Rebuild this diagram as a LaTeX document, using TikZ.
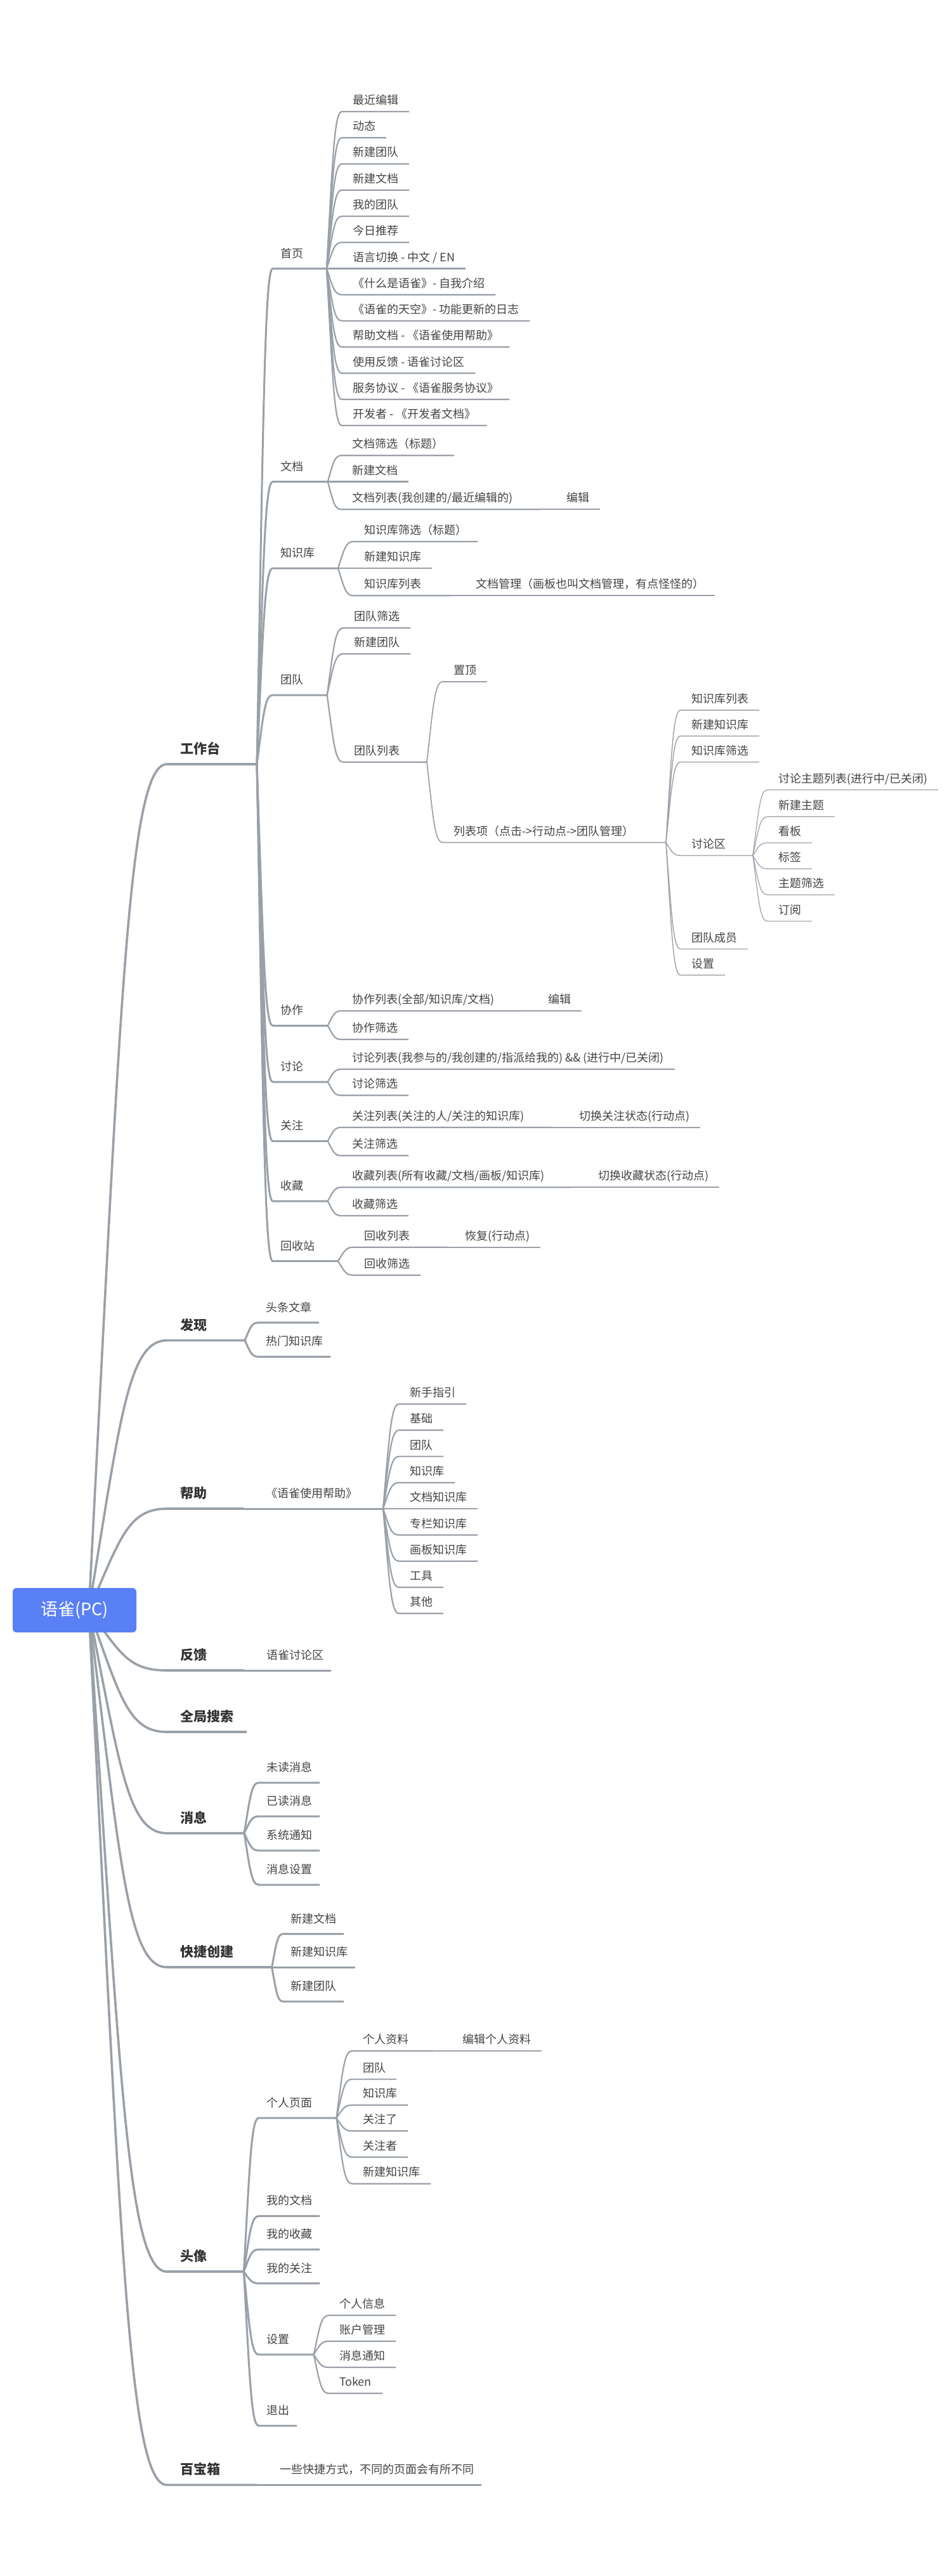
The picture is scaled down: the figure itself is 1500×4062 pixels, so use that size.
\documentclass[tikz,border=0pt]{standalone}
\usepackage{fontspec}
\setmainfont{Noto Sans CJK SC}
\usetikzlibrary{calc}
\definecolor{linegray}{RGB}{153,160,168}
\definecolor{rootblue}{RGB}{90,128,246}
\definecolor{headgray}{RGB}{51,51,51}
\definecolor{itemgray}{RGB}{68,68,68}

\tikzset{
  twig/.style={to path={let \p1=(\tikztostart), \p2=(\tikztotarget) in
      .. controls ({\x1+0.4*(\x2-\x1)},{\y1+0.7*(\y2-\y1)})
      and ({0.5*(\x1+\x2)},\y2) .. (\tikztotarget) \tikztonodes}},
  ln1/.style={draw=linegray, line width=3.6pt, line join=round},
  ln2/.style={draw=linegray, line width=3pt, line join=round},
  ln3/.style={draw=linegray, line width=2.2pt, line join=round},
  ln4/.style={draw=linegray, line width=1.7pt, line join=round},
  ln5/.style={draw=linegray, line width=1.4pt, line join=round},
  ln6/.style={draw=linegray, line width=1.2pt, line join=round},
  t1/.style={anchor=south west, outer sep=0pt, inner xsep=21pt, inner ysep=16.5pt,
      text depth=0pt, text=headgray, font=\fontsize{21}{25}\selectfont\bfseries},
  t2/.style={anchor=south west, outer sep=0pt, inner xsep=12pt, inner ysep=17.5pt,
      text depth=0pt, text=itemgray, font=\fontsize{18}{22}\selectfont},
  t3/.style={t2, inner xsep=17pt, inner ysep=11.5pt},
  reach/.style={text width=#1, align=left},
  rootbox/.style={fill=rootblue, text=white, rounded corners=6pt, inner sep=0pt,
      minimum width=195pt, minimum height=70pt, font=\fontsize{27}{30}\selectfont}
}

\newcommand\fanout[3]{\foreach \kid in {#3}{%
  \draw[#1] (#2.south east) to[twig] (\kid.south west) -- (\kid.south east);}}

\begin{document}
\begin{tikzpicture}[x=1pt, y=-1pt]
  \fill[white] (0,0) rectangle (1500,4062);
  \useasboundingbox (0,0) rectangle (1500,4062);
  \coordinate (hub) at (140,2539);

  % first level
  \node[t1, reach=100pt] (wt) at (263,1205) {工作台};
  \node[t1, reach=81pt] (fx) at (263,2113.6) {发现};
  \node[t1, reach=79pt] (bz) at (263,2379) {帮助};
  \node[t1, reach=79pt] (fk) at (263,2634) {反馈};
  \node[t1] (ss) at (263,2731) {全局搜索};
  \node[t1, reach=80pt] (xx) at (263,2890.7) {消息};
  \node[t1, reach=123.6pt] (kj) at (263,3102) {快捷创建};
  \node[t1, reach=79.4pt] (tx) at (263,3582) {头像};
  \node[t1, reach=100pt] (bb) at (263,3918.3) {百宝箱};

  % 工作台
  \node[t2, reach=61pt] (sy) at (430,423.5) {首页};
  \node[t2, reach=62.7pt] (wd) at (430,759.5) {文档};
  \node[t2, reach=79pt] (zs) at (430,896) {知识库};
  \node[t2, reach=61.7pt] (td) at (430,1096) {团队};
  \node[t2, reach=62.7pt] (xz) at (430,1617.3) {协作};
  \node[t2, reach=62.7pt] (tl) at (430,1706) {讨论};
  \node[t2, reach=62.7pt] (gz) at (430,1799.3) {关注};
  \node[t2, reach=62.7pt] (sc) at (430,1894) {收藏};
  \node[t2, reach=79pt] (hs) at (430,1988.7) {回收站};

  % 首页
  \node[t3] (sy1) at (539,176) {最近编辑};
  \node[t3] (sy2) at (539,217.25) {动态};
  \node[t3] (sy3) at (539,258.5) {新建团队};
  \node[t3] (sy4) at (539,299.75) {新建文档};
  \node[t3] (sy5) at (539,341) {我的团队};
  \node[t3] (sy6) at (539,382.25) {今日推荐};
  \node[t3] (sy7) at (539,423.5) {语言切换 - 中文 / EN};
  \node[t3] (sy8) at (539,464.75) {《什么是语雀》- 自我介绍};
  \node[t3] (sy9) at (539,506) {《语雀的天空》- 功能更新的日志};
  \node[t3] (sy10) at (539,547.25) {帮助文档 - 《语雀使用帮助》};
  \node[t3] (sy11) at (539,588.5) {使用反馈 - 语雀讨论区};
  \node[t3] (sy12) at (539,629.75) {服务协议 - 《语雀服务协议》};
  \node[t3] (sy13) at (539,671) {开发者 - 《开发者文档》};

  % 文档, 知识库
  \node[t3] (wd1) at (538,718.3) {文档筛选（标题）};
  \node[t3] (wd2) at (538,759.5) {新建文档};
  \node[t3, reach=280pt] (wd3) at (538,803.3) {文档列表(我创建的/最近编辑的)};
  \node[t3] (wd3a) at (876,803.3) {编辑};
  \node[t3] (zs1) at (557,854) {知识库筛选（标题）};
  \node[t3] (zs2) at (557,896) {新建知识库};
  \node[t3, reach=118pt] (zs3) at (557,939.3) {知识库列表};
  \node[t3] (zs3a) at (733,939.3) {文档管理（画板也叫文档管理，有点怪怪的）};

  % 团队
  \node[t3] (td1) at (541,990.2) {团队筛选};
  \node[t3] (td2) at (541,1031) {新建团队};
  \node[t3, reach=98pt] (td3) at (541,1201.7) {团队列表};
  \node[t3] (td3a) at (698,1075) {置顶};
  \node[t3, reach=318pt] (td3b) at (698,1328.5) {列表项（点击->行动点->团队管理）};
  \node[t3] (tm1) at (1073,1119.8) {知识库列表};
  \node[t3] (tm2) at (1073,1160.6) {新建知识库};
  \node[t3] (tm3) at (1073,1201.7) {知识库筛选};
  \node[t3, reach=80pt] (tm4) at (1073,1349) {讨论区};
  \node[t3] (tm5) at (1073,1496.5) {团队成员};
  \node[t3] (tm6) at (1073,1537.6) {设置};
  \node[t3] (tq1) at (1210,1245.5) {讨论主题列表(进行中/已关闭)};
  \node[t3] (tq2) at (1210,1287.8) {新建主题};
  \node[t3] (tq3) at (1210,1329) {看板};
  \node[t3] (tq4) at (1210,1370) {标签};
  \node[t3] (tq5) at (1210,1411) {主题筛选};
  \node[t3] (tq6) at (1210,1452.6) {订阅};

  % 协作 ... 回收站
  \node[t3, reach=249pt] (xz1) at (538,1594) {协作列表(全部/知识库/文档)};
  \node[t3] (xz1a) at (847,1594) {编辑};
  \node[t3] (xz2) at (538,1639) {协作筛选};
  \node[t3] (tl1) at (538,1686) {讨论列表(我参与的/我创建的/指派给我的) \&\& (进行中/已关闭)};
  \node[t3] (tl2) at (538,1727.3) {讨论筛选};
  \node[t3, reach=298pt] (gz1) at (538,1777.7) {关注列表(关注的人/关注的知识库)};
  \node[t3] (gz1a) at (896,1777.7) {切换关注状态(行动点)};
  \node[t3] (gz2) at (538,1822.3) {关注筛选};
  \node[t3, reach=328pt] (sc1) at (538,1872.3) {收藏列表(所有收藏/文档/画板/知识库)};
  \node[t3] (sc1a) at (926,1872.3) {切换收藏状态(行动点)};
  \node[t3] (sc2) at (538,1917) {收藏筛选};
  \node[t3, reach=115.5pt] (hs1) at (557,1966.7) {回收列表};
  \node[t3] (hs1a) at (716,1966.7) {恢复(行动点)};
  \node[t3] (hs2) at (557,2010.7) {回收筛选};

  % 发现, 帮助, 反馈
  \node[t2] (fx1) at (407,2085.7) {头条文章};
  \node[t2] (fx2) at (407,2139.3) {热门知识库};
  \node[t2, reach=173pt] (bz1) at (407,2379) {《语雀使用帮助》};
  \node[t3] (bh1) at (629,2214) {新手指引};
  \node[t3] (bh2) at (629,2255.3) {基础};
  \node[t3] (bh3) at (629,2296.6) {团队};
  \node[t3] (bh4) at (629,2337.9) {知识库};
  \node[t3] (bh5) at (629,2379) {文档知识库};
  \node[t3] (bh6) at (629,2420.5) {专栏知识库};
  \node[t3] (bh7) at (629,2461.7) {画板知识库};
  \node[t3] (bh8) at (629,2503) {工具};
  \node[t3] (bh9) at (629,2544.3) {其他};
  \node[t2] (fk1) at (408,2634) {语雀讨论区};

  % 消息, 快捷创建
  \node[t2] (xx1) at (408,2811) {未读消息};
  \node[t2] (xx2) at (408,2864) {已读消息};
  \node[t2] (xx3) at (408,2918) {系统通知};
  \node[t2] (xx4) at (408,2972) {消息设置};
  \node[t2] (kj1) at (446,3049.6) {新建文档};
  \node[t2] (kj2) at (446,3102) {新建知识库};
  \node[t2] (kj3) at (446,3156) {新建团队};

  % 头像
  \node[t2, reach=98.4pt] (tx1) at (408,3339.8) {个人页面};
  \node[t2] (tx2) at (408,3494.4) {我的文档};
  \node[t2] (tx3) at (408,3547) {我的收藏};
  \node[t2] (tx4) at (408,3600.5) {我的关注};
  \node[t2, reach=62.6pt] (tx5) at (408,3712.8) {设置};
  \node[t2] (tx6) at (408,3825) {退出};
  \node[t3, reach=97.6pt] (gr1) at (555,3234) {个人资料};
  \node[t3] (gr1a) at (712,3234) {编辑个人资料};
  \node[t3] (gr2) at (555,3278.6) {团队};
  \node[t3] (gr3) at (555,3319.4) {知识库};
  \node[t3] (gr4) at (555,3360.2) {关注了};
  \node[t3] (gr5) at (555,3401.5) {关注者};
  \node[t3] (gr6) at (555,3443.4) {新建知识库};
  \node[t3] (st1) at (518,3651) {个人信息};
  \node[t3] (st2) at (518,3691.8) {账户管理};
  \node[t3] (st3) at (518,3733) {消息通知};
  \node[t3] (st4) at (518,3774) {Token};

  % 百宝箱
  \node[t2] (bb1) at (429,3918.3) {一些快捷方式，不同的页面会有所不同};

  % links
  \foreach \lead in {wt,fx,bz,fk,ss,xx,kj,tx,bb}
    \draw[ln1] (hub) to[twig] (\lead.south west) -- (\lead.south east);
  \fanout{ln2}{wt}{sy,wd,zs,td,xz,tl,gz,sc,hs}
  \fanout{ln2}{fx}{fx1,fx2}
  \fanout{ln2}{bz}{bz1}
  \fanout{ln2}{fk}{fk1}
  \fanout{ln2}{xx}{xx1,xx2,xx3,xx4}
  \fanout{ln2}{kj}{kj1,kj2,kj3}
  \fanout{ln2}{tx}{tx1,tx2,tx3,tx4,tx5,tx6}
  \fanout{ln2}{bb}{bb1}
  \fanout{ln3}{sy}{sy1,sy2,sy3,sy4,sy5,sy6,sy7,sy8,sy9,sy10,sy11,sy12,sy13}
  \fanout{ln3}{wd}{wd1,wd2,wd3}
  \fanout{ln3}{zs}{zs1,zs2,zs3}
  \fanout{ln3}{td}{td1,td2,td3}
  \fanout{ln3}{xz}{xz1,xz2}
  \fanout{ln3}{tl}{tl1,tl2}
  \fanout{ln3}{gz}{gz1,gz2}
  \fanout{ln3}{sc}{sc1,sc2}
  \fanout{ln3}{hs}{hs1,hs2}
  \fanout{ln3}{bz1}{bh1,bh2,bh3,bh4,bh5,bh6,bh7,bh8,bh9}
  \fanout{ln3}{tx1}{gr1,gr2,gr3,gr4,gr5,gr6}
  \fanout{ln3}{tx5}{st1,st2,st3,st4}
  \fanout{ln4}{wd3}{wd3a}
  \fanout{ln4}{zs3}{zs3a}
  \fanout{ln4}{td3}{td3a,td3b}
  \fanout{ln4}{xz1}{xz1a}
  \fanout{ln4}{gz1}{gz1a}
  \fanout{ln4}{sc1}{sc1a}
  \fanout{ln4}{hs1}{hs1a}
  \fanout{ln4}{gr1}{gr1a}
  \fanout{ln5}{td3b}{tm1,tm2,tm3,tm4,tm5,tm6}
  \fanout{ln6}{tm4}{tq1,tq2,tq3,tq4,tq5,tq6}

  % root on top of the hub
  \node[rootbox] (root) at (117.5,2539) {语雀(PC)};
\end{tikzpicture}
\end{document}
